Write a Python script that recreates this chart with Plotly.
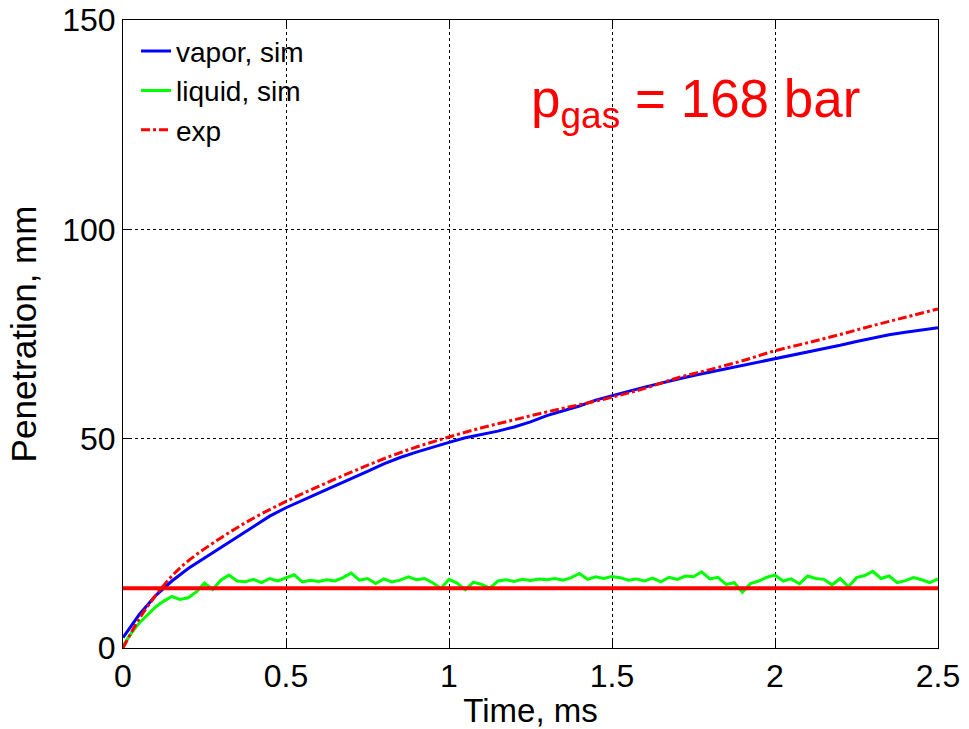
import plotly.graph_objects as go

# ---- data ----
t_vapor = [i * 0.05 for i in range(51)]
vapor_sim = [2.5, 8.0, 12.5, 16.0, 19.0, 21.5, 24.0, 26.5, 29.2, 31.5,
             33.5, 35.3, 37.0, 38.7, 40.4, 42.2, 44.0, 45.5, 46.8, 48.0,
             49.1, 50.2, 51.0, 51.8, 52.8, 54.0, 55.5, 56.6, 57.8, 59.2,
             60.3, 61.3, 62.3, 63.3, 64.2, 65.1, 65.9, 66.7, 67.5, 68.2,
             69.0, 69.8, 70.6, 71.4, 72.3, 73.2, 74.0, 74.8, 75.4, 76.0,
             76.5]

t_liquid = [i * 0.025 for i in range(101)]
liquid_sim = [0.5, 3.5, 6.0, 8.0, 9.8, 11.2, 12.3, 11.6, 12.0, 13.4,
              15.5, 14.0, 16.2, 17.4, 16.0, 15.8, 16.4, 15.6, 16.6, 16.0,
              16.8, 17.5, 15.8, 16.2, 15.9, 16.3, 16.0, 16.8, 17.9, 16.2,
              16.6, 15.4, 16.5, 15.8, 16.2, 17.0, 16.3, 16.6, 15.6, 14.2,
              16.4, 15.5, 13.9, 15.7, 15.2, 14.3, 16.0, 16.3, 15.9, 16.4,
              16.1, 16.5, 16.3, 16.6, 16.2, 16.8, 17.8, 16.4, 17.0, 16.6,
              17.1, 16.8, 16.2, 16.5, 16.0, 16.7, 15.8, 16.9, 16.4, 17.2,
              17.0, 18.2, 16.5, 16.9, 15.2, 15.6, 13.3, 15.4, 16.0, 16.9,
              17.4, 16.0, 16.5, 15.3, 17.2, 16.6, 16.4, 15.1, 16.6, 14.6,
              16.8, 17.3, 18.3, 16.6, 17.2, 15.6, 16.1, 16.8, 16.3, 15.6,
              16.5]

t_exp = [0.0, 0.05, 0.1, 0.15, 0.2, 0.3, 0.4, 0.5, 0.6, 0.7, 0.8, 0.9,
         1.0, 1.1, 1.2, 1.3, 1.4, 1.5, 1.6, 1.7, 1.8, 1.9, 2.0, 2.1,
         2.2, 2.3, 2.4, 2.5]
vapor_exp = [0.0, 7.0, 12.5, 17.2, 20.8, 26.3, 31.0, 35.0, 38.6, 42.0,
             45.2, 48.0, 50.4, 52.6, 54.5, 56.4, 58.1, 59.9, 62.0, 64.5,
             66.5, 68.6, 71.0, 72.9, 74.9, 77.0, 79.0, 81.0]

liquid_exp_t = [0.0, 2.5]
liquid_exp = [14.3, 14.3]

x_ticks = [0, 0.5, 1, 1.5, 2, 2.5]
x_tick_labels = ["0", "0.5", "1", "1.5", "2", "2.5"]
y_ticks = [0, 50, 100, 150]
y_tick_labels = ["0", "50", "100", "150"]

FONT = "Liberation Sans, Arial, Helvetica, sans-serif"

fig = go.Figure()
fig.add_trace(go.Scatter(x=t_vapor, y=vapor_sim, mode="lines", name="vapor, sim",
                         line=dict(color="#0000ff", width=3)))
fig.add_trace(go.Scatter(x=t_liquid, y=liquid_sim, mode="lines", name="liquid, sim",
                         line=dict(color="#00ff00", width=3)))
fig.add_trace(go.Scatter(x=t_exp, y=vapor_exp, mode="lines", name="exp",
                         line=dict(color="#ff0000", width=3, dash="dashdot", shape="spline")))
fig.add_trace(go.Scatter(x=liquid_exp_t, y=liquid_exp, mode="lines", showlegend=False,
                         line=dict(color="#ff0000", width=4)))

axis_common = dict(
    showline=True, linecolor="black", linewidth=1, mirror="ticks",
    ticks="inside", ticklen=8, tickcolor="black",
    showgrid=True, gridcolor="black", griddash="dot", gridwidth=1,
    zeroline=False, automargin=False, ticklabeloverflow="allow",
    tickfont=dict(family=FONT, size=32, color="black"),
)

fig.update_xaxes(range=[0, 2.5], tickvals=x_ticks, ticktext=x_tick_labels,
                 title=dict(text="Time, ms", font=dict(family=FONT, size=33, color="black"), standoff=0),
                 **axis_common)
fig.update_yaxes(range=[0, 150], tickvals=y_ticks, ticktext=y_tick_labels,
                 title=dict(text="Penetration, mm", font=dict(family=FONT, size=35, color="black"), standoff=14),
                 **axis_common)

fig.add_annotation(x=1.756, y=130.3, xref="x", yref="y",
                   text="p<sub>gas</sub> = 168 bar", showarrow=False,
                   font=dict(family=FONT, size=53, color="#ff0000"),
                   xanchor="center", yanchor="middle")

fig.update_layout(
    width=969, height=729,
    margin=dict(l=123, r=31, t=20, b=81),
    paper_bgcolor="white", plot_bgcolor="white",
    showlegend=True,
    legend=dict(x=0.016, y=0.99, xanchor="left", yanchor="top",
                bgcolor="rgba(255,255,255,0)", borderwidth=0,
                font=dict(family=FONT, size=28, color="black"),
                tracegroupgap=0),
)

# remove the browser's default 8px body margin so the figure fills the window
fig.write_html("out.html",
               config={"displayModeBar": False},
               post_script="document.body.style.margin='0';document.body.style.overflow='hidden';")
